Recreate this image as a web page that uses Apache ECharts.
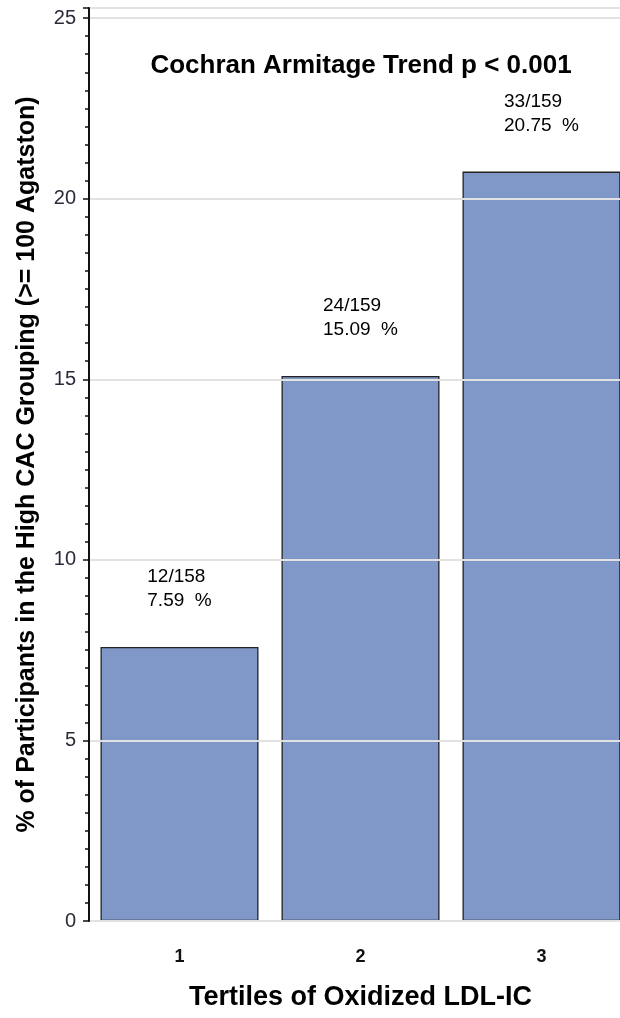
<!DOCTYPE html>
<html>
<head>
<meta charset="utf-8">
<title>High CAC by tertile</title>
<script src="https://cdn.jsdelivr.net/npm/echarts@6/dist/echarts.min.js"></script>
<style>
  html, body { margin: 0; padding: 0; background: #ffffff; }
  #chart { width: 620px; height: 1018px; }
</style>
</head>
<body>
<div id="chart"></div>
<script>
var tertiles = ["1", "2", "3"];
var percents = [7.59, 15.09, 20.75];
var cases = [12, 24, 33];
var totals = [158, 159, 159];
var yTicks = [0, 5, 10, 15, 20, 25];

var font = "'Liberation Sans', Arial, sans-serif";
var chart = echarts.init(document.getElementById("chart"));

// plot area runs past the right edge, like the cropped original
var option = {
  backgroundColor: "#ffffff",
  animation: false,
  textStyle: { fontFamily: font },
  grid: {
    left: 89,
    top: 8,
    width: 543,
    height: 913,
    outerBoundsMode: "none",
    containLabel: false,
    show: true,
    borderColor: "#555",
    borderWidth: 1.5,
  },
  graphic: [
    {
      type: "text",
      x: 361,
      y: 53,
      style: {
        text: "Cochran Armitage Trend p < 0.001",
        font: "bold 26px " + font,
        fill: "#000",
        textAlign: "center",
        textVerticalAlign: "top",
      },
    },
  ],
  xAxis: {
    type: "category",
    data: tertiles,
    name: "Tertiles of Oxidized LDL-IC",
    nameLocation: "middle",
    nameGap: 63,
    nameTextStyle: { fontSize: 27, fontWeight: "bold", color: "#000" },
    axisLine: { lineStyle: { color: "#111", width: 2 } },
    axisTick: { show: false },
    axisLabel: { fontSize: 18, fontWeight: "bold", color: "#111", margin: 27 },
  },
  yAxis: {
    type: "value",
    min: yTicks[0],
    max: 25.28,
    interval: 5,
    z: 3,
    name: "% of Participants in the High CAC Grouping (>= 100 Agatston)",
    nameLocation: "middle",
    nameGap: 49,
    nameTextStyle: { fontSize: 25, fontWeight: "bold", color: "#000" },
    axisLine: { show: true, lineStyle: { color: "#111", width: 2 } },
    axisTick: { show: true, length: 6, lineStyle: { color: "#111", width: 1.5 } },
    minorTick: { show: true, splitNumber: 10, length: 4, lineStyle: { color: "#111", width: 1.5 } },
    axisLabel: {
      fontSize: 20,
      color: "#2a2a3a",
      margin: 13,
      showMaxLabel: false,
      formatter: function (v) {
        return yTicks.indexOf(v) >= 0 ? String(v) : "";
      },
    },
    splitLine: { show: true, lineStyle: { color: "#e2e2e2", width: 2 } },
  },
  series: [
    {
      type: "bar",
      data: percents,
      barCategoryGap: "12.7%",
      itemStyle: { color: "#7f98c8", borderColor: "#222", borderWidth: 1.3 },
      label: {
        show: true,
        position: "top",
        distance: 34,
        formatter: function (p) {
          var i = p.dataIndex;
          return "{a|" + cases[i] + "/" + totals[i] + "}\n{a|" + percents[i].toFixed(2) + "  %}";
        },
        rich: {
          a: { fontSize: 19, lineHeight: 24, color: "#000", align: "left", fontFamily: font },
        },
      },
    },
  ],
};

chart.setOption(option);
</script>
</body>
</html>
